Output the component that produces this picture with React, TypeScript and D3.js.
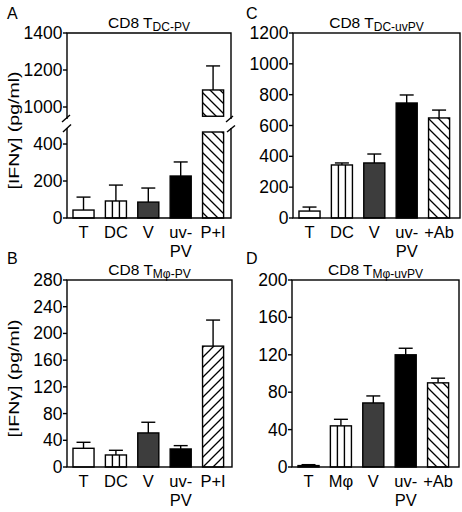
import React from "react";
import * as d3 from "d3";

// ---------- data ----------
const catsA = ["T", "DC", "V", "uv-PV", "P+I"];
const meanA = [43, 92, 86, 227, 1092];
const semA = [70, 86, 76, 76, 130];
const ticksALow = [0, 200, 400];
const ticksAHigh = [1000, 1200, 1400];

const catsB = ["T", "DC", "V", "uv-PV", "P+I"];
const meanB = [28, 18, 51, 27, 181];
const semB = [9, 7, 16, 5, 39];
const ticksB = [0, 40, 80, 120, 160, 200, 240, 280];

const catsC = ["T", "DC", "V", "uv-PV", "+Ab"];
const meanC = [45, 344, 357, 746, 649];
const semC = [26, 13, 58, 52, 51];
const ticksC = [0, 200, 400, 600, 800, 1000, 1200];

const catsD = ["T", "Mφ", "V", "uv-PV", "+Ab"];
const meanD = [1.5, 44, 68.5, 120, 90];
const semD = [1, 7, 7.5, 7, 5];
const ticksD = [0, 40, 80, 120, 160, 200];

const fillKinds = ["white", "stripes", "gray", "black", "hatch"];

const FONT = "'Liberation Sans', Arial, Helvetica, sans-serif";

type PanelProps = {
  id: string;
  letter: string;
  sub: string;
  x0: number;
  x1: number;
  yTop: number;
  yBot: number;
  cats: string[];
  means: number[];
  sems: number[];
  ticks: number[];
  ticksHigh?: number[];
  yMax: number;
  broken?: boolean;
  hatchDir: "back" | "fwd";
  letterPos: [number, number];
  yTitle: boolean;
};

function labelLines(c: string) {
  return c === "uv-PV" ? ["uv-", "PV"] : [c];
}

function Panel(p: PanelProps) {
  const x = d3
    .scaleBand<string>()
    .domain(p.cats)
    .range([p.x0, p.x0 + 162.6])
    .paddingInner(0.35)
    .paddingOuter(0.185);
  const bw = x.bandwidth();

  const yLow = p.broken
    ? d3.scaleLinear().domain([0, 465]).range([p.yBot, 132])
    : d3.scaleLinear().domain([0, p.yMax]).range([p.yBot, p.yTop]);
  const yHigh = d3.scaleLinear().domain([950, 1400]).range([116.25, p.yTop]);
  const y = (v: number) => (p.broken && v > 465 ? yHigh(v) : yLow(v));

  const patId = `hatch-${p.id}`;
  const stroke = 1.4;

  const bars = p.cats.map((c, i) => {
    const bx = x(c)!;
    const kind = fillKinds[i];
    const m = p.means[i];
    const top = y(m);
    const errTop = y(m + p.sems[i]);
    const fill =
      kind === "gray" ? "#3d3d3d" : kind === "black" ? "#000" : kind === "hatch" ? `url(#${patId})` : "#fff";
    const cx = bx + bw / 2;
    const pieces: JSX.Element[] = [];
    if (p.broken && m > 465) {
      pieces.push(
        <rect key="lo" x={bx} y={yLow(465)} width={bw} height={p.yBot - yLow(465)} fill={fill} stroke="#000" strokeWidth={stroke} />
      );
      pieces.push(
        <rect key="hi" x={bx} y={top} width={bw} height={yHigh(950) - top} fill={fill} stroke="#000" strokeWidth={stroke} />
      );
    } else {
      pieces.push(
        <rect key="r" x={bx} y={top} width={bw} height={Math.max(p.yBot - top, 0.5)} fill={fill} stroke="#000" strokeWidth={stroke} />
      );
    }
    if (kind === "stripes") {
      [1, 2].forEach((k) =>
        pieces.push(
          <line key={"s" + k} x1={bx + (bw * k) / 3} x2={bx + (bw * k) / 3} y1={top} y2={p.yBot} stroke="#000" strokeWidth={stroke} />
        )
      );
    }
    return (
      <g key={c}>
        <line x1={cx} x2={cx} y1={top} y2={errTop} stroke="#000" strokeWidth={stroke} />
        <line x1={cx - 7} x2={cx + 7} y1={errTop} y2={errTop} stroke="#000" strokeWidth={stroke} />
        {pieces}
      </g>
    );
  });

  const tickEls = (vals: number[], sc: (v: number) => number) =>
    vals.map((v) => (
      <g key={v}>
        <line x1={p.x0 - 4} x2={p.x0} y1={sc(v)} y2={sc(v)} stroke="#000" strokeWidth={stroke} />
        <text x={p.x0 - 4.5} y={sc(v) + 6} textAnchor="end" fontSize={17.5} fontFamily={FONT}>
          {v}
        </text>
      </g>
    ));

  const cx = (p.x0 + p.x1) / 2;
  const hatchPath =
    p.hatchDir === "back" ? "M-5,-5 L15,15 M-5,5 L5,15 M5,-5 L15,5" : "M-5,15 L15,-5 M-5,5 L5,-5 M5,15 L15,5";

  return (
    <g>
      <defs>
        <pattern id={patId} patternUnits="userSpaceOnUse" width={10} height={10}>
          <rect width={10} height={10} fill="#fff" />
          <path d={hatchPath} stroke="#000" strokeWidth={1.3} />
        </pattern>
      </defs>
      <text x={p.letterPos[0]} y={p.letterPos[1]} fontSize={16} fontFamily={FONT}>
        {p.letter}
      </text>
      <text x={cx} y={p.yTop - 5} textAnchor="middle" fontSize={15.5} fontFamily={FONT}>
        CD8 T
        <tspan fontSize={12} dy={3}>
          {p.sub}
        </tspan>
      </text>
      {p.yTitle && (
        <text
          transform={`translate(${19},${(p.yTop + p.yBot) / 2 + 5}) rotate(-90)`}
          textAnchor="middle"
          fontSize={15.5}
          fontFamily={FONT}
          textLength={118}
          lengthAdjust="spacingAndGlyphs"
        >
          [IFNγ] (pg/ml)
        </text>
      )}
      {bars}
      {p.broken ? (
        <g stroke="#000" strokeWidth={stroke} fill="none">
          <path d={`M${p.x0},119 L${p.x0},${p.yTop} L${p.x1},${p.yTop} L${p.x1},119`} />
          <path d={`M${p.x0},128 L${p.x0},${p.yBot} L${p.x1},${p.yBot} L${p.x1},128`} />
          <line x1={p.x0 - 5} y1={122} x2={p.x0 + 3} y2={115} />
          <line x1={p.x0 - 4} y1={132} x2={p.x0 + 4} y2={124.5} />
          <line x1={p.x1 - 5} y1={122} x2={p.x1 + 2} y2={116} />
          <line x1={p.x1 - 4} y1={132} x2={p.x1 + 4} y2={125.5} />
        </g>
      ) : (
        <rect x={p.x0} y={p.yTop} width={p.x1 - p.x0} height={p.yBot - p.yTop} fill="none" stroke="#000" strokeWidth={stroke} />
      )}
      {p.broken ? (
        <>
          {tickEls(p.ticks, yLow)}
          {tickEls(p.ticksHigh || [], yHigh)}
        </>
      ) : (
        tickEls(p.ticks, yLow)
      )}
      {p.cats.map((c) => {
        const lines = labelLines(c);
        const lx = x(c)! + bw / 2;
        return (
          <text key={c} x={lx} y={p.yBot + 20} textAnchor="middle" fontSize={16.5} fontFamily={FONT}>
            {lines.map((l, k) => (
              <tspan key={k} x={lx} dy={k === 0 ? 0 : 19}>
                {l}
              </tspan>
            ))}
          </text>
        );
      })}
    </g>
  );
}

export default function App() {
  return (
    <svg
      width={462}
      height={512}
      style={{ position: "absolute", left: 0, top: 0, background: "#fff" }}
    >
      <rect width={462} height={512} fill="#fff" />
      <Panel
        id="A"
        letter="A"
        sub="DC-PV"
        x0={67}
        x1={231}
        yTop={33}
        yBot={218}
        cats={catsA}
        means={meanA}
        sems={semA}
        ticks={ticksALow}
        ticksHigh={ticksAHigh}
        yMax={1400}
        broken
        hatchDir="back"
        letterPos={[7, 19]}
        yTitle
      />
      <Panel
        id="C"
        letter="C"
        sub="DC-uvPV"
        x0={293}
        x1={460}
        yTop={33}
        yBot={218}
        cats={catsC}
        means={meanC}
        sems={semC}
        ticks={ticksC}
        yMax={1200}
        hatchDir="back"
        letterPos={[246, 19]}
        yTitle={false}
      />
      <Panel
        id="B"
        letter="B"
        sub="Mφ-PV"
        x0={67}
        x1={232}
        yTop={280}
        yBot={467}
        cats={catsB}
        means={meanB}
        sems={semB}
        ticks={ticksB}
        yMax={280}
        hatchDir="fwd"
        letterPos={[7, 264]}
        yTitle
      />
      <Panel
        id="D"
        letter="D"
        sub="Mφ-uvPV"
        x0={292}
        x1={459}
        yTop={280}
        yBot={467}
        cats={catsD}
        means={meanD}
        sems={semD}
        ticks={ticksD}
        yMax={200}
        hatchDir="back"
        letterPos={[246, 264]}
        yTitle={false}
      />
    </svg>
  );
}
